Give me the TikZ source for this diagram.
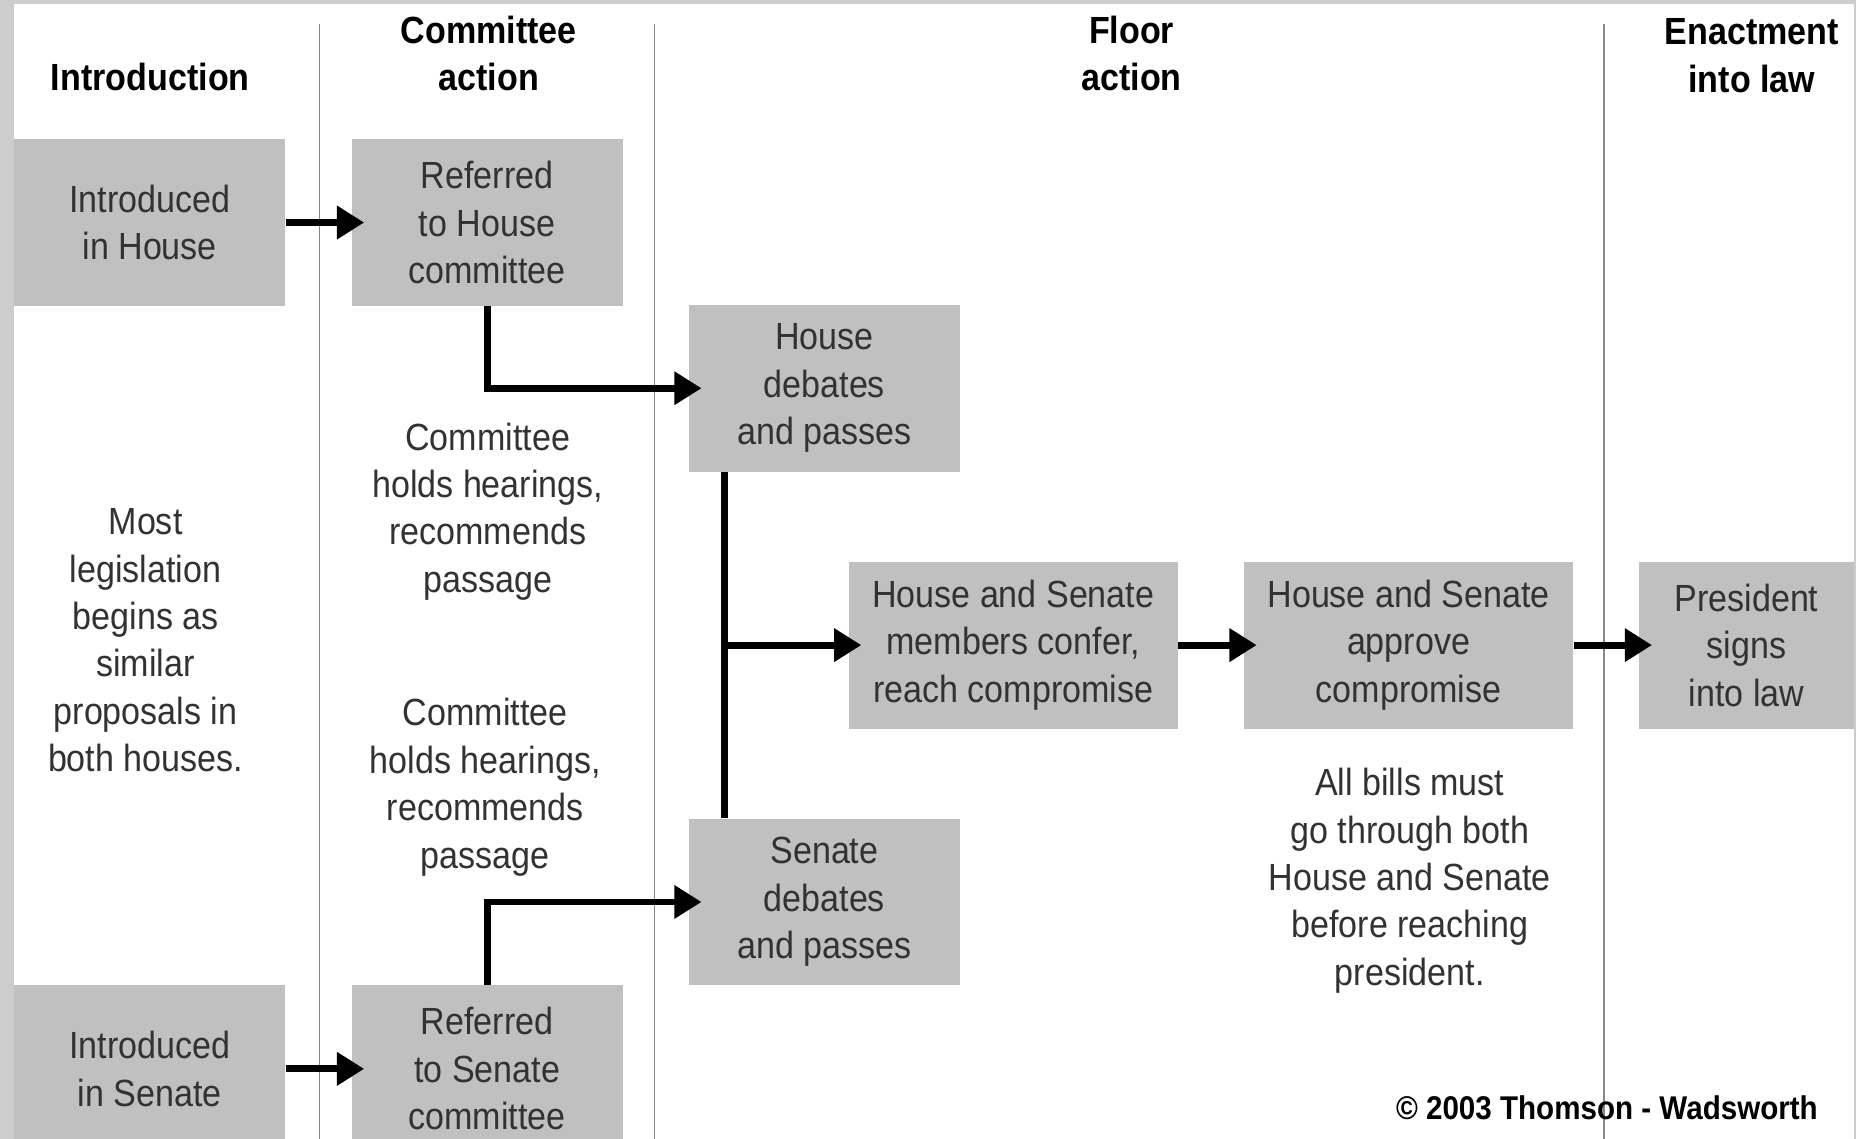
\documentclass[tikz,border=0pt]{standalone}
\usepackage{fontspec}
\setmainfont{Liberation Sans}[FakeStretch=0.9]
\usetikzlibrary{arrows.meta}
\definecolor{bx}{RGB}{192,192,192}
\definecolor{txt}{RGB}{50,50,50}
\definecolor{rl}{RGB}{135,135,135}
\definecolor{fr}{RGB}{205,205,205}
\tikzstyle{box}=[fill=bx, text=txt, align=center, inner sep=0pt, minimum width=4.58cm, minimum height=2.82cm, font=\fontsize{18.2}{22.8}\selectfont]
\tikzstyle{wide}=[box, minimum width=5.56cm]
\tikzstyle{note}=[text=txt, align=center, inner sep=0pt, font=\fontsize{18.2}{22.8}\selectfont]
\tikzstyle{head}=[align=center, inner sep=0pt, font=\bfseries\fontsize{18.2}{22.8}\selectfont]
\tikzstyle{arr}=[line width=3.3pt, -{Triangle[length=0.46cm,width=0.54cm]}, shorten >=-0.22cm]

\begin{document}
\begin{tikzpicture}[x=0.02cm, y=-0.02cm]

      \clip (0,0) rectangle (1568,962);
      \fill[fr] (0,0) rectangle (1568,962);
      \fill[white] (12,3) rectangle (1566,962);

      \foreach \x in {270, 553, 1355}
        \draw[rl, line width=.8pt] (\x,20) -- (\x,962);

      % stages
      \node[head] (h1) at (127,65) {Introduction};
      \node[head] (h2) at (413,45) {Committee\\action};
      \node[head] (h3) at (956,45) {Floor\\action};
      \node[head] (h4) at (1480,47) {Enactment\\into law};

      % house
      \node[box] (inh) at (126.5,188) {Introduced\\in House};
      \node[box] (refh) at (411.5,188) {Referred\\to House\\committee};
      \node[box] (hdeb) at (696.5,328) {House\\debates\\and passes};

      % senate
      \node[box] (ins) at (126.5,903) {Introduced\\in Senate};
      \node[box] (refs) at (411.5,903) {Referred\\to Senate\\committee};
      \node[box] (sdeb) at (696.5,762) {Senate\\debates\\and passes};

      % both
      \node[wide] (conf) at (856,545) {House and Senate\\members confer,\\reach compromise};
      \node[wide] (appr) at (1190,545) {House and Senate\\approve\\compromise};
      \node[box, minimum width=3.62cm] (pres) at (1475.5,545) {President\\signs\\into law};

      \node[note] (hear1) at (412,432) {Committee\\holds hearings,\\recommends\\passage};
      \node[note] (hear2) at (410,665) {Committee\\holds hearings,\\recommends\\passage};
      \node[note] (most) at (123,541) {Most\\legislation\\begins as\\similar\\proposals in\\both houses.};
      \node[note] (allb) at (1191,744) {All bills must\\go through both\\House and Senate\\before reaching\\president.};

      \node[anchor=east, inner sep=0pt, font=\bfseries\fontsize{15.8}{19}\selectfont] (copy) at (1536,936) {© 2003 Thomson - Wadsworth};

      \draw[arr] (inh.east) -- (refh.west);
      \draw[arr] (ins.east) -- (refs.west);
      \draw[arr] (refh.south) |- (hdeb.west);
      \draw[arr] (refs.north) |- (sdeb.west);

      \coordinate (jn) at (612,545);
      \draw[line width=3.3pt] (hdeb.south -| jn) -- (sdeb.north -| jn);
      \draw[arr] (jn) -- (conf.west);
      \draw[arr] (conf.east) -- (appr.west);
      \draw[arr] (appr.east) -- (pres.west);

    \end{tikzpicture}
\end{document}
